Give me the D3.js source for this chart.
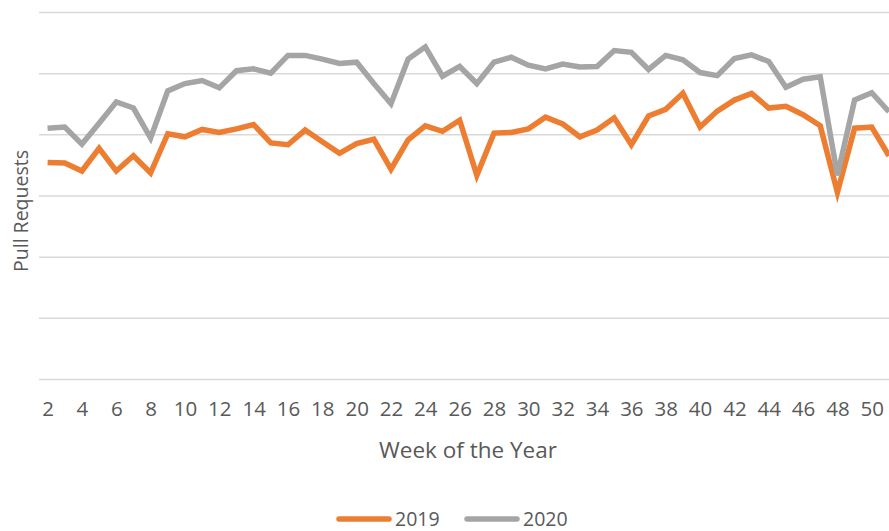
<!DOCTYPE html>
<html>
<head>
<meta charset="utf-8">
<script src="https://cdn.jsdelivr.net/npm/d3@7"></script>
<style>
  body { margin: 0; background: #fff; }
  svg { display: block; font-family: 'Open Sans', sans-serif; }
</style>
</head>
<body>
<div id="chart"></div>
<script>
var weeks = d3.range(2, 52);

var prs2019 = [354, 353, 340, 377, 340, 365, 337, 401, 396, 408, 403, 409, 416, 386, 383,
  407, 388, 369, 385, 392, 343, 391, 414, 405, 423, 333, 402, 403, 409, 428, 417, 396,
  407, 427, 383, 430, 441, 467, 412, 438, 456, 467, 443, 446, 432, 414, 305, 410, 412, 365];

var prs2020 = [410, 412, 384, 418, 453, 443, 394, 471, 483, 488, 476, 504, 507, 500, 529,
  529, 523, 516, 518, 483, 450, 523, 543, 495, 511, 483, 518, 526, 513, 507, 515, 510,
  511, 537, 534, 506, 529, 522, 501, 496, 524, 530, 519, 477, 490, 494, 333, 456, 468, 437];

var seriesNames = ['2019', '2020'];
var yTicks = [0, 100, 200, 300, 400, 500, 600];

var orange = '#ED7D31';
var grey = '#A5A5A5';
var colors = [orange, grey];

var fullWidth = 889;
var fullHeight = 531;
var plotLeft = 39;
var step = 17.17;
var plotTop = 12;
var plotBottom = 379;

var svg = d3.select('#chart').append('svg')
  .attr('width', fullWidth)
  .attr('height', fullHeight);

var xScale = d3.scalePoint()
  .domain(weeks)
  .range([plotLeft, plotLeft + weeks.length * step])
  .padding(0.5);

var yScale = d3.scaleLinear()
  .domain([0, 600])
  .range([plotBottom, plotTop]);

// gridlines, no labels on the value axis
var grid = svg.append('g')
  .attr('transform', 'translate(' + plotLeft + ',0)')
  .call(d3.axisLeft(yScale)
    .tickValues(yTicks)
    .tickSize(-(weeks.length * step))
    .tickFormat(''));
grid.select('.domain').remove();
grid.selectAll('.tick line')
  .attr('stroke', '#D9D9D9')
  .attr('stroke-width', 1.5);

var xAxis = svg.append('g')
  .attr('transform', 'translate(0,' + plotBottom + ')')
  .call(d3.axisBottom(xScale)
    .tickValues(weeks.filter(function(w) { return w % 2 === 0; }))
    .tickSize(0)
    .tickPadding(22));
xAxis.select('.domain').remove();
xAxis.selectAll('text')
  .style('font-size', '20.5px')
  .style('font-family', "'Open Sans', sans-serif")
  .attr('fill', '#595959');

svg.append('text')
  .attr('x', 468)
  .attr('y', 458)
  .attr('text-anchor', 'middle')
  .style('font-size', '22.5px')
  .attr('fill', '#595959')
  .text('Week of the Year');

svg.append('text')
  .attr('transform', 'translate(28,211)rotate(-90)')
  .attr('text-anchor', 'middle')
  .style('font-size', '19.5px')
  .attr('fill', '#595959')
  .text('Pull Requests');

var line = d3.line()
  .x(function(d, i) { return xScale(weeks[i]); })
  .y(function(d) { return yScale(d); });

[prs2019, prs2020].forEach(function(vals, i) {
  svg.append('path')
    .datum(vals)
    .attr('fill', 'none')
    .attr('stroke', colors[i])
    .attr('stroke-width', 5.5)
    .attr('d', line);
});

// legend
var legendX = [336, 464];
var legend = svg.append('g').attr('class', 'legend');
seriesNames.forEach(function(name, i) {
  legend.append('line')
    .attr('x1', legendX[i] + 3)
    .attr('x2', legendX[i] + 53)
    .attr('y1', 519)
    .attr('y2', 519)
    .attr('stroke', colors[i])
    .attr('stroke-width', 5.5)
    .attr('stroke-linecap', 'round');
  legend.append('text')
    .attr('x', legendX[i] + 59)
    .attr('y', 525.5)
    .style('font-size', '19.5px')
    .attr('fill', '#595959')
    .text(name);
});
</script>
</body>
</html>
